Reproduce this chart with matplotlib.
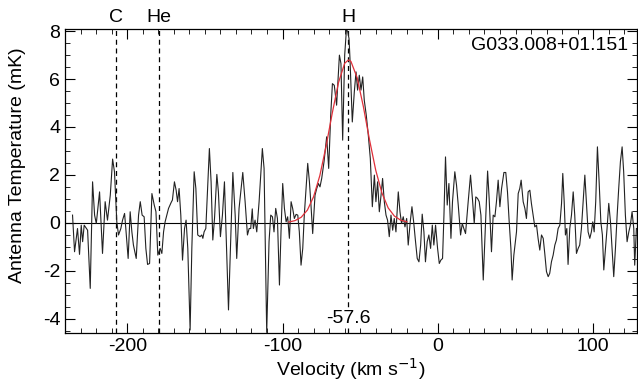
import numpy as np
import matplotlib
matplotlib.use('Agg')
import matplotlib.pyplot as plt
from matplotlib.ticker import MultipleLocator

plt.rcParams['font.family'] = ['Liberation Sans', 'DejaVu Sans']
plt.rcParams['axes.unicode_minus'] = False

# Spectrum, velocity in km/s, temperature in mK
vel = [-235.2, -233.9, -232.0, -230.7, -229.6, -228.7, -227.7, -225.5, -223.8, -222.3,
       -221.0, -219.9, -217.8, -215.9, -214.2, -212.7, -210.9, -209.4, -208.2, -206.7,
       -205.6, -204.1, -203.0, -201.7, -200.9, -199.4, -198.1, -197.0, -196.0, -194.2,
       -192.7, -191.6, -190.4, -189.1, -188.0, -186.9, -185.6, -184.1, -182.6, -181.5,
       -180.3, -178.8, -177.7, -176.6, -175.6, -173.4, -171.7, -170.9, -169.6, -168.5,
       -167.6, -166.6, -165.5, -164.4, -163.1, -162.1, -161.0, -159.5, -158.4, -156.9,
       -155.8, -154.6, -153.1, -152.0, -151.3, -150.5, -149.4, -147.1, -146.0, -144.9,
       -143.8, -142.3, -141.3, -140.0, -138.7, -137.4, -135.9, -134.8, -133.3, -132.0,
       -130.5, -129.5, -128.0, -125.6, -124.1, -122.6, -121.5, -120.5, -119.5, -118.8,
       -117.7, -116.6, -115.1, -113.0, -111.9, -110.2, -108.7, -107.6, -106.5, -105.5,
       -104.4, -103.3, -102.0, -101.0, -99.9, -98.8, -97.7, -96.7, -95.6, -94.5,
       -93.5, -92.4, -91.3, -90.2, -89.2, -88.1, -87.0, -86.0, -84.9, -83.8,
       -82.7, -81.7, -80.6, -79.1, -78.0, -76.9, -75.9, -74.8, -73.3, -71.6,
       -70.3, -69.0, -67.9, -66.7, -65.2, -63.4, -62.4, -61.3, -60.0, -58.9,
       -58.1, -57.2, -56.6, -55.1, -53.8, -52.7, -51.7, -50.6, -49.5, -48.4,
       -47.4, -46.1, -44.8, -43.5, -42.2, -40.9, -39.9, -38.8, -37.7, -36.6,
       -35.6, -34.5, -33.4, -32.4, -31.3, -30.2, -29.1, -28.1, -27.0, -25.5,
       -24.4, -23.4, -22.3, -21.2, -20.1, -19.1, -17.8, -16.7, -15.6, -14.6,
       -13.3, -12.2, -11.1, -10.1, -9.0, -8.0, -6.9, -5.8, -4.7, -3.6,
       -2.6, -1.5, -0.2, 0.9, 1.9, 3.0, 3.9, 4.9, 6.0, 7.1,
       8.4, 9.4, 10.9, 12.0, 13.1, 14.6, 15.7, 16.7, 17.8, 19.5,
       21.0, 22.3, 23.4, 24.4, 25.5, 26.6, 27.7, 29.2, 30.5, 32.0,
       33.0, 34.5, 35.6, 36.7, 37.7, 38.8, 39.9, 41.0, 42.5, 43.7,
       44.8, 45.9, 47.0, 47.8, 48.9, 50.6, 51.7, 52.7, 53.6, 54.9,
       56.0, 57.0, 58.1, 59.2, 60.2, 61.3, 62.4, 63.5, 64.5, 65.6,
       66.7, 67.8, 68.8, 69.9, 71.0, 72.0, 73.1, 74.2, 75.3, 76.3,
       77.4, 78.5, 79.6, 80.4, 81.3, 82.1, 83.0, 83.8, 84.9, 86.0,
       87.1, 88.1, 89.2, 90.3, 91.3, 92.4, 93.5, 94.6, 95.6, 96.7,
       97.8, 98.8, 99.7, 100.6, 101.6, 102.7, 103.8, 104.9, 105.9, 106.8,
       107.9, 108.9, 110.0, 111.1, 112.1, 113.2, 114.3, 115.4, 116.4, 117.5,
       118.6, 119.6, 120.7, 121.8, 122.9, 123.9, 125.0, 126.1, 126.7, 127.8]
temp = [0.32, -1.21, -0.24, -1.32, -0.10, -0.79, -0.10, -0.31, -2.74, 1.71,
        0.32, -0.03, 1.29, -1.28, 0.88, 0.11, 1.15, 2.66, 2.13, 0.04,
        -0.51, -0.24, 0.11, 0.39, -0.24, -1.49, 0.46, -0.38, -0.93, -1.49,
        0.32, 0.88, 0.32, 0.25, -1.07, -1.74, -1.70, 1.22, 0.74, 0.46,
        -1.35, -1.07, -1.28, -0.38, 0.04, 0.60, 0.85, 0.95, 1.71, 1.36,
        0.88, 1.43, 0.32, -1.56, -0.24, 0.11, -1.07, -4.48, -1.07, 2.13,
        1.43, -0.51, -0.58, -0.51, -0.65, -0.38, -0.24, 3.10, 1.71, -0.72,
        0.18, 2.02, 1.29, -0.58, 0.32, 1.71, -1.35, -3.64, -0.51, 2.10,
        0.32, -1.49, 0.60, 2.10, 0.88, -0.51, -0.24, -0.24, 0.58, -0.24,
        0.11, -0.38, 0.88, 3.10, 2.27, -4.58, -0.79, 0.32, 0.25, -0.38,
        0.60, 0.18, -2.60, -0.38, 1.64, 0.60, 0.04, 0.25, -0.65, 0.88,
        0.60, 0.18, 0.35, 0.32, -0.38, -1.77, -1.07, 0.32, 1.43, 2.48,
        1.71, 0.74, -0.45, 1.15, 1.43, 1.64, 1.50, 1.85, 2.55, 3.59,
        2.27, 4.49, 5.81, 5.74, 4.91, 7.00, 6.65, 3.45, 7.00, 8.05,
        8.00, 7.69, 6.86, 4.21, 5.47, 6.30, 5.54, 6.16, 5.54, 6.09,
        5.12, 4.49, 3.66, 2.68, 0.67, 1.99, 0.88, 1.71, 0.46, 1.15,
        1.85, 0.88, 0.32, 0.11, -0.58, 0.32, -0.31, 0.18, -0.38, 1.29,
        0.46, -0.03, 0.25, -0.17, 0.18, -0.93, 0.04, 0.67, 0.04, -0.65,
        -1.49, -1.63, -0.93, 0.36, -0.38, -1.63, -0.79, -0.51, -1.07, -0.10,
        -0.93, -0.10, -1.07, -1.70, -1.56, -1.49, 0.32, 2.75, 0.74, 1.64,
        -0.65, 0.88, 2.13, 1.57, 0.74, -0.51, -0.03, -0.24, -0.45, 0.88,
        1.99, 0.95, -0.03, 1.08, 1.02, 0.88, 0.32, -2.39, -0.24, 2.16,
        1.02, -1.21, 0.32, 0.25, 0.88, 1.78, 0.67, 1.43, 2.10, 2.10,
        1.29, 0.04, -1.07, -2.39, -1.35, -0.38, 1.22, 1.43, 1.78, 0.88,
        0.60, 0.18, 1.29, 1.36, 0.81, 0.32, -0.17, -0.10, -0.65, -1.14,
        -0.51, -0.65, -1.28, -2.04, -2.25, -2.11, -1.63, -1.35, -0.93, -0.72,
        -0.24, -0.10, 0.81, 2.06, 0.88, -0.51, -0.24, -1.74, -0.24, 0.32,
        1.29, 0.32, -1.28, -1.07, -0.93, -0.24, 0.88, 1.99, 0.88, -0.38,
        -0.65, -0.38, 0.04, -0.38, 0.88, 3.17, 1.71, 0.04, -0.51, -1.97,
        -1.07, -0.24, 0.81, 0.04, -1.07, -2.25, -1.07, 0.32, 1.43, 2.55,
        3.17, 2.13, 0.32, -0.79, -0.38, -0.10, 0.46, -0.24, -1.77, -0.24]

# Gaussian fit curve
fit_vel = [-96, -92, -88, -84, -80, -76, -72, -68, -64, -60, -57.6, -56,
           -52, -48, -44, -40, -36, -32, -28, -24, -20]
fit_temp = [0.03, 0.09, 0.23, 0.53, 1.09, 1.97, 3.19, 4.58, 5.85, 6.66, 6.80, 6.74,
            6.06, 4.86, 3.46, 2.19, 1.24, 0.62, 0.28, 0.11, 0.04]

line_names = ['C', 'He', 'H']
line_vel = [-207.2, -179.8, -57.6]
source = 'G033.008+01.151'
peak_label = '-57.6'

fig = plt.figure(figsize=(6.38, 3.84), dpi=100)
ax = fig.add_axes([0.102, 0.133, 0.896, 0.792])

ax.axhline(0, color='black', lw=0.8, zorder=1)
for name, v in zip(line_names, line_vel):
    ax.axvline(v, color='black', lw=0.9, ls=(0, (4, 3)), zorder=1)
    ax.text(v, 1.01, name, transform=ax.get_xaxis_transform(), ha='center',
            va='bottom', fontsize=14)

ax.plot(vel, temp, color='#222222', lw=0.8, zorder=2)
ax.plot(fit_vel, fit_temp, color='#e0303a', lw=0.9, zorder=3)

ax.text(line_vel[2], -4.0, peak_label, ha='center', va='center', fontsize=14,
        zorder=4, bbox=dict(facecolor='white', edgecolor='none', pad=0.5))
ax.text(0.985, 0.945, source, transform=ax.transAxes, ha='right', va='center',
        fontsize=14)

ax.set_xlim(-240, 128)
ax.set_ylim(-4.6, 8.1)
ax.xaxis.set_major_locator(MultipleLocator(100))
ax.xaxis.set_minor_locator(MultipleLocator(10))
ax.yaxis.set_major_locator(MultipleLocator(2))
ax.yaxis.set_minor_locator(MultipleLocator(0.5))
ax.tick_params(which='both', direction='in', top=True, right=True, labelsize=14)
ax.tick_params(which='major', length=7, width=0.8)
ax.tick_params(which='minor', length=3.5, width=0.6)
for s in ax.spines.values():
    s.set_linewidth(0.9)

ax.set_xlabel('Velocity (km s$^{-1}$)', fontsize=14, labelpad=1)
ax.set_ylabel('Antenna Temperature (mK)', fontsize=14)
ax.yaxis.set_label_coords(-0.068, 0.55)

plt.savefig('out.png', dpi=100)
